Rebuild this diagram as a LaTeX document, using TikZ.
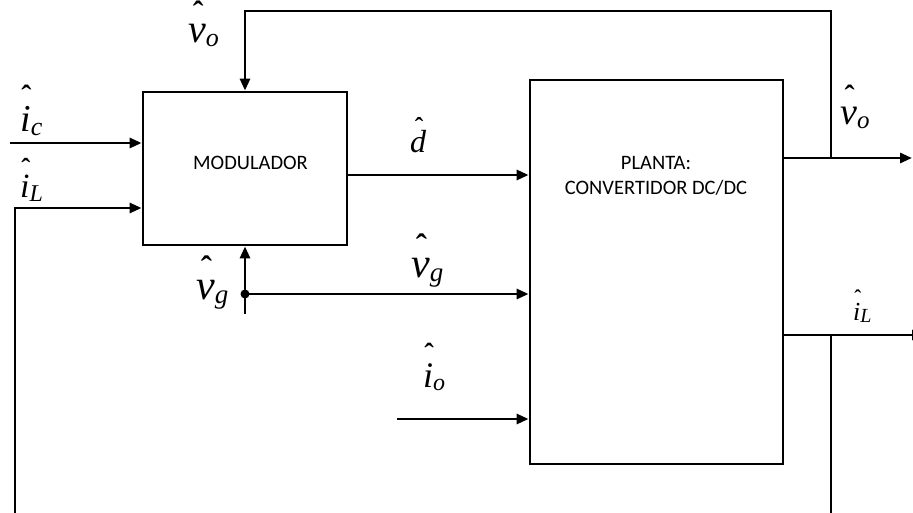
\documentclass[tikz,border=0pt]{standalone}
\usepackage{fontspec}
\setmainfont{Liberation Serif}
\newfontfamily\lblfont{Liberation Serif}
\newfontfamily\boxfont{Carlito}
\usetikzlibrary{arrows.meta}
% hatted italic symbol: #1 size, #2 subscript size, #3 letter, #4 subscript, #5 extra raise
\newcommand\hs[5]{{\lblfont\fontsize{#1}{#1}\selectfont\itshape
  \setbox0\hbox{#3}%
  \rlap{\hbox to\wd0{\hss\kern2pt\raisebox{\dimexpr\ht0+#5em\relax}{\fontsize{\the\dimexpr #1pt*4/5\relax}{#1}\selectfont\upshape\bfseries\char"02C6}\hss}}\box0
  \raisebox{-0.1em}{\fontsize{#2}{#2}\selectfont #4}}}
\tikzset{
  blk/.style={draw, line width=2.8pt, minimum width=#1, inner sep=0pt},
  wire/.style={line width=2.8pt},
  arr/.style={wire, -{Triangle[length=12pt,width=10pt]}},
  lbl/.style={anchor=base west, inner sep=0pt},
  boxtxt/.style={font=\boxfont\fontsize{20.5}{25}\selectfont, align=center, inner sep=0pt}
}
\begin{document}
\begin{tikzpicture}[x=1pt,y=-1pt]
\useasboundingbox (0,0) rectangle (913,513);
% blocks
\node[blk=204pt, minimum height=153pt] (mod) at (245,168.5) {};
\node[boxtxt, anchor=base] (modtxt) at (250.5,170) {MODULADOR};
\node[boxtxt] (pltxt) at (656,176) {PLANTA:\\CONVERTIDOR DC/DC};
\node[blk=253pt, minimum height=384pt] (pl) at (656.5,272) {};
% coordinates
\coordinate (icsrc) at (10,143);
\coordinate (icrow) at (0,143);
\coordinate (ilrow) at (0,208);
\coordinate (ilsrc) at (15,525);
\coordinate (ilcorner) at (15,208);
\coordinate (drow) at (0,175);
\coordinate (vgdot) at (245,294);
\coordinate (vgsrc) at (245,314);
\coordinate (iosrc) at (397,419);
\coordinate (vo) at (831,158);
\coordinate (votr) at (831,11);
\coordinate (votl) at (245,11);
\coordinate (voend) at (912,158);
\coordinate (il) at (831,335);
\coordinate (ilend) at (924,335);
\coordinate (ilbot) at (831,525);
% connectors
\draw[arr] (icsrc) -- (mod.west |- icrow);
\draw[arr] (ilsrc) -- (ilcorner) -- (mod.west |- ilrow);
\draw[arr] (mod.east |- drow) -- (pl.west |- drow);
\draw[arr] (vgsrc) -- (mod.south);
\draw[arr] (vgdot) -- (pl.west |- vgdot);
\fill (vgdot) circle (4.5pt);
\draw[arr] (iosrc) -- (pl.west |- iosrc);
\draw[arr] (pl.east |- vo) -- (voend);
\draw[arr] (vo) -- (votr) -- (votl) -- (mod.north);
\draw[arr] (pl.east |- il) -- (ilend);
\draw[wire] (il) -- (ilbot);
% labels
\node[lbl] (lvo1) at (188,43) {\hs{40}{26}{v}{o}{0.02}};
\node[lbl] (lic) at (20,132) {\hs{38}{26}{i}{c}{0.0}};
\node[lbl] (lil1) at (20,198) {\hs{34}{24}{i}{L}{-0.05}};
\node[lbl] (lvg1) at (196,299) {\hs{42}{27}{v}{g}{0.0}};
\node[lbl] (ld) at (410,153) {\hs{32}{22}{d}{}{-0.15}};
\node[lbl] (lvg2) at (411,277) {\hs{42}{27}{v}{g}{0.0}};
\node[lbl] (lio) at (423,387) {\hs{36}{24}{i}{o}{0.0}};
\node[lbl] (lvo2) at (840,125) {\hs{38}{25}{v}{o}{0.02}};
\node[lbl] (lil2) at (853,320) {\hs{26}{20}{i}{L}{-0.05}};
\end{tikzpicture}
\end{document}
